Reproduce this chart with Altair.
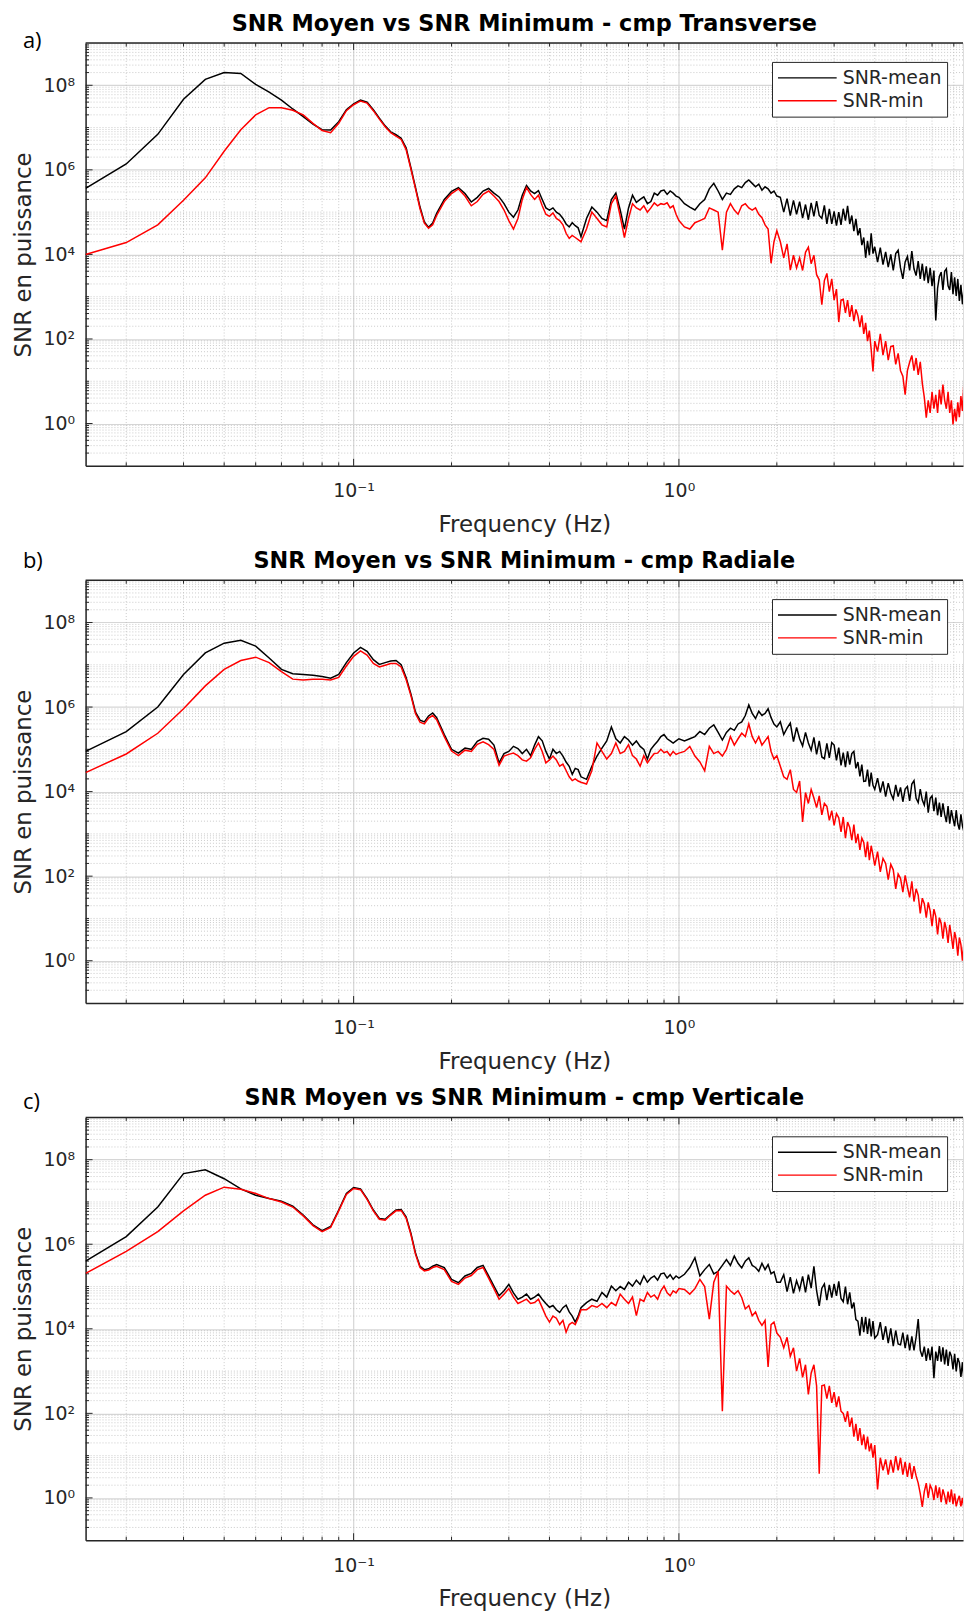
import altair as alt
import pandas as pd

# ---------------- frequency grid (Hz) ----------------
FREQ_LOW = [0.015, 0.02, 0.025, 0.03, 0.035, 0.04, 0.045, 0.05, 0.055, 0.06, 0.065, 0.07,
            0.075, 0.08, 0.085, 0.09, 0.095, 0.1, 0.105, 0.11, 0.115, 0.12, 0.125, 0.13,
            0.135, 0.14, 0.145, 0.15, 0.155, 0.16, 0.165, 0.17, 0.175, 0.18, 0.19, 0.2]
FREQ_MID1 = [0.21, 0.22, 0.23, 0.24, 0.25, 0.26, 0.27, 0.28, 0.29, 0.30, 0.31, 0.32, 0.33, 0.34, 0.35,
             0.36, 0.37, 0.38, 0.39, 0.40, 0.41, 0.42, 0.43, 0.44, 0.45, 0.46, 0.47, 0.48, 0.49, 0.50]
FREQ_MID2 = [0.52, 0.54, 0.56, 0.58, 0.60, 0.62, 0.64, 0.66, 0.68, 0.70, 0.72, 0.74, 0.76, 0.78, 0.80,
             0.82, 0.84, 0.86, 0.88, 0.90, 0.92, 0.94, 0.96, 0.98, 1.00]
FREQ_HIGH1 = [1.04, 1.08, 1.12, 1.16, 1.20, 1.24, 1.28, 1.32, 1.36, 1.40, 1.44, 1.48, 1.52, 1.56, 1.60,
              1.64, 1.68, 1.72, 1.76, 1.80, 1.84, 1.88, 1.92, 1.96, 2.00]
FREQ_HIGH2 = [2.05, 2.10, 2.15, 2.20, 2.25, 2.30, 2.35, 2.40, 2.45, 2.50, 2.55, 2.60, 2.65, 2.70, 2.75,
              2.80, 2.85, 2.90, 2.95, 3.00, 3.05, 3.10, 3.15, 3.20, 3.25, 3.30, 3.35, 3.40, 3.45, 3.50,
              3.55, 3.60, 3.65, 3.70, 3.75, 3.80, 3.85, 3.90, 3.95, 4.00]
FREQ_HIGH3 = [4.08, 4.16, 4.24, 4.32, 4.40, 4.48, 4.56, 4.64, 4.72, 4.80, 4.88, 4.96, 5.04, 5.12, 5.20,
              5.28, 5.36, 5.44, 5.52, 5.60, 5.68, 5.76, 5.84, 5.92, 6.00, 6.08, 6.16, 6.24, 6.32, 6.40,
              6.48, 6.56, 6.64, 6.72, 6.80, 6.88, 6.96, 7.04, 7.12, 7.20, 7.28, 7.36, 7.44, 7.52, 7.60,
              7.68, 7.76]
FREQ = FREQ_LOW + FREQ_MID1 + FREQ_MID2 + FREQ_HIGH1 + FREQ_HIGH2 + FREQ_HIGH3

# ---------------- SNR values, as log10 exponents ----------------
# a) Transverse
A_MEAN = [5.56, 6.14, 6.84, 7.67, 8.14, 8.30, 8.28, 8.02, 7.84, 7.65, 7.44, 7.26, 7.08, 6.95, 6.94, 7.14, 7.42, 7.56,
          7.65, 7.60, 7.42, 7.22, 7.04, 6.90, 6.83, 6.75, 6.52, 6.05, 5.58, 5.12, 4.77, 4.64, 4.74, 4.97, 5.30, 5.49,
          5.58, 5.44, 5.24, 5.35, 5.50, 5.56, 5.45, 5.36, 5.20, 5.00, 4.88, 5.05, 5.40, 5.63, 5.50,
          5.44, 5.51, 5.30, 5.10, 5.05, 5.10, 5.00, 4.95, 4.85, 4.72, 4.65, 4.75, 4.68, 4.63, 4.42,
          4.85, 5.12, 5.00, 4.85, 4.80, 5.30, 5.45, 5.05, 4.60, 5.10, 5.40, 5.23, 5.30, 5.36, 5.20,
          5.25, 5.45, 5.40, 5.50, 5.52, 5.42, 5.50, 5.45, 5.38, 5.35,
          5.20, 5.12, 5.05, 5.20, 5.30, 5.55, 5.68, 5.50, 5.30, 5.45, 5.42, 5.55, 5.62, 5.58, 5.70,
          5.76, 5.68, 5.60, 5.66, 5.52, 5.60, 5.55, 5.45, 5.50, 5.38,
          5.35, 5.00, 5.32, 4.92, 5.28, 4.95, 5.25, 4.86, 5.18, 4.82, 5.22, 4.90, 5.26, 4.92, 4.85,
          5.16, 4.72, 5.08, 4.72, 5.02, 4.68, 5.00, 4.70, 5.08, 4.80, 5.15, 4.72, 4.92, 4.55, 4.84,
          4.45, 4.62, 4.22, 4.40, 3.92, 4.32, 3.98, 4.50, 4.02, 4.18,
          3.82, 4.16, 3.76, 4.06, 3.70, 4.00, 3.62, 4.02, 4.10, 3.68, 3.42, 3.82, 3.95, 3.62, 4.08,
          3.66, 3.50, 3.84, 3.42, 3.78, 3.38, 3.72, 3.32, 3.68, 3.25, 3.62, 2.44, 3.20, 3.48, 3.58,
          3.16, 3.60, 3.66, 3.26, 3.16, 3.58, 3.06, 3.46, 3.02, 3.42, 2.90, 3.28, 2.82, 3.18, 2.70,
          2.62, 2.92]
A_MIN = [4.00, 4.28, 4.70, 5.28, 5.81, 6.44, 6.95, 7.30, 7.47, 7.47, 7.41, 7.30, 7.10, 6.93, 6.88, 7.10, 7.40, 7.54,
         7.63, 7.58, 7.40, 7.20, 7.02, 6.88, 6.80, 6.72, 6.48, 6.02, 5.55, 5.08, 4.74, 4.62, 4.70, 4.92, 5.25, 5.44,
         5.55, 5.38, 5.15, 5.25, 5.42, 5.50, 5.38, 5.25, 5.05, 4.80, 4.60, 4.85, 5.30, 5.58, 5.42,
         5.30, 5.40, 5.15, 4.95, 4.90, 4.98, 4.85, 4.80, 4.70, 4.50, 4.38, 4.45, 4.40, 4.35, 4.30,
         4.60, 5.00, 4.85, 4.70, 4.65, 5.20, 5.38, 4.90, 4.40, 4.85, 5.20, 5.10, 5.05, 5.15, 5.00,
         5.10, 5.22, 5.15, 5.20, 5.18, 5.22, 5.10, 5.15, 4.95, 4.80,
         4.65, 4.60, 4.75, 4.80, 4.85, 5.10, 5.05, 5.00, 4.10, 5.00, 5.20, 5.05, 4.95, 5.15, 5.20,
         5.10, 5.05, 5.10, 4.95, 4.87, 4.70, 4.60, 3.79, 4.30, 4.56,
         4.30, 3.92, 4.25, 3.63, 3.98, 3.68, 3.92, 3.62, 4.05, 4.17, 3.78, 3.98, 3.52, 3.40, 2.81,
         3.38, 3.55, 3.12, 3.42, 2.92, 3.18, 2.40, 2.92, 2.94, 2.62, 2.92, 2.52, 2.80, 2.42, 2.70,
         2.55, 2.28, 2.56, 2.12, 2.38, 1.95, 2.20, 1.75, 1.23, 1.95,
         1.70, 2.12, 1.62, 1.95, 1.50, 1.82, 1.84, 1.40, 1.66, 1.25, 1.12, 0.68, 1.25, 1.45, 1.61,
         1.25, 1.55, 1.15, 1.46, 0.95, 0.62, 0.14, 0.55, 0.25, 0.75, 0.35, 0.68, 0.25, 0.80, 0.45,
         0.92, 0.55, 0.35, 0.75, 0.25, 0.55, -0.02, 0.35, 0.05, 0.50, 0.15, 0.65, 0.30, 1.00, 0.45,
         0.75, 0.35]
# b) Radiale
B_MEAN = [4.95, 5.42, 6.00, 6.77, 7.28, 7.51, 7.58, 7.44, 7.16, 6.89, 6.79, 6.77, 6.75, 6.72, 6.68, 6.77, 7.05, 7.28,
          7.41, 7.32, 7.12, 7.01, 7.05, 7.09, 7.10, 7.00, 6.70, 6.31, 5.88, 5.69, 5.65, 5.79, 5.86, 5.75, 5.35, 5.00,
          4.91, 5.03, 5.00, 5.19, 5.26, 5.24, 5.10, 4.68, 4.90, 4.95, 5.07, 5.02, 4.90, 5.00, 4.85,
          5.10, 5.30, 5.20, 4.95, 4.77, 5.00, 4.90, 4.95, 4.84, 4.70, 4.60, 4.41, 4.55, 4.52, 4.35,
          4.29, 4.60, 4.84, 5.03, 5.20, 5.53, 5.25, 5.15, 5.30, 5.22, 5.10, 5.20, 5.07, 5.00, 4.77,
          5.00, 5.10, 5.19, 5.30, 5.35, 5.25, 5.20, 5.15, 5.20, 5.25,
          5.20, 5.25, 5.30, 5.42, 5.35, 5.50, 5.58, 5.40, 5.22, 5.40, 5.50, 5.45, 5.60, 5.65, 5.80,
          6.05, 5.85, 5.73, 5.90, 5.80, 5.85, 5.96, 5.75, 5.60, 5.53,
          5.65, 5.35, 5.50, 5.62, 5.18, 5.52, 5.25, 5.08, 5.40, 5.15, 4.98, 5.28, 4.88, 5.20, 4.82,
          4.78, 5.14, 4.80, 5.16, 5.10, 4.74, 5.04, 4.62, 4.92, 4.58, 4.95, 4.64, 4.90, 4.95, 4.55,
          4.70, 4.36, 4.64, 4.24, 4.25, 4.52, 4.12, 4.45, 4.15, 4.05,
          4.32, 3.98, 4.24, 3.88, 4.20, 3.96, 3.82, 4.16, 3.88, 4.10, 3.76, 4.06, 4.12, 3.78, 4.18,
          4.26, 3.84, 3.74, 4.06, 3.80, 3.68, 4.00, 3.50, 3.84, 3.90, 3.54, 3.86, 3.44, 3.74, 3.40,
          3.72, 3.46, 3.28, 3.66, 3.24, 3.56, 3.36, 3.18, 3.56, 3.24, 3.10, 3.46, 3.19, 3.04, 3.40,
          3.09, 2.98]
B_MIN = [4.45, 4.89, 5.38, 5.96, 6.50, 6.89, 7.10, 7.18, 7.05, 6.84, 6.66, 6.64, 6.66, 6.66, 6.64, 6.70, 6.97, 7.20,
         7.33, 7.23, 7.03, 6.95, 6.99, 7.03, 7.03, 6.95, 6.65, 6.27, 5.84, 5.64, 5.60, 5.74, 5.80, 5.70, 5.30, 4.96,
         4.85, 4.98, 4.95, 5.12, 5.18, 5.11, 5.00, 4.62, 4.84, 4.88, 4.91, 4.85, 4.75, 4.72, 4.80,
         5.00, 5.15, 4.95, 4.68, 4.75, 4.84, 4.75, 4.60, 4.65, 4.50, 4.35, 4.26, 4.30, 4.25, 4.22,
         4.18, 4.50, 5.15, 4.95, 4.77, 4.90, 5.15, 4.90, 4.95, 5.11, 4.85, 4.77, 4.60, 4.85, 4.68,
         4.80, 4.90, 4.91, 5.00, 4.92, 4.95, 4.85, 4.95, 4.88, 4.91,
         4.95, 5.07, 4.84, 4.70, 4.49, 5.07, 4.90, 4.95, 4.84, 5.00, 5.30, 5.10, 5.25, 5.38, 5.30,
         5.60, 5.30, 5.15, 5.30, 5.10, 5.20, 5.30, 4.95, 4.77, 4.85,
         4.60, 4.35, 4.29, 4.52, 4.05, 3.98, 4.25, 3.28, 3.98, 3.72, 4.05, 3.85, 3.62, 3.90, 3.45,
         3.72, 3.65, 3.32, 3.55, 3.20, 3.48, 3.38, 3.05, 3.40, 2.90, 3.28, 3.15, 2.85, 3.22, 2.78,
         3.00, 2.62, 2.90, 2.80, 2.45, 2.82, 2.38, 2.72, 2.50, 2.25,
         2.58, 2.10, 2.42, 2.30, 1.92, 2.28, 2.15, 1.70, 2.05, 1.95, 1.62, 2.02, 1.75, 1.50, 1.88,
         1.40, 1.70, 1.55, 1.12, 1.48, 1.35, 1.02, 1.38, 1.18, 0.82, 1.22, 1.05, 0.62, 1.02, 0.88,
         0.52, 0.92, 0.74, 0.42, 0.85, 0.58, 0.28, 0.68, 0.50, 0.12, 0.55, 0.38, 0.00, 0.45, 0.25,
         0.58, 0.30]
# c) Verticale
C_MEAN = [5.60, 6.18, 6.88, 7.67, 7.76, 7.55, 7.31, 7.16, 7.08, 7.02, 6.90, 6.69, 6.46, 6.32, 6.42, 6.81, 7.20, 7.34,
          7.31, 7.08, 6.81, 6.61, 6.59, 6.71, 6.81, 6.82, 6.65, 6.26, 5.79, 5.48, 5.40, 5.42, 5.48, 5.52, 5.45, 5.17,
          5.09, 5.25, 5.31, 5.45, 5.50, 5.25, 5.01, 4.78, 4.90, 5.05, 4.85, 4.70, 4.75, 4.82, 4.70,
          4.75, 4.82, 4.70, 4.60, 4.51, 4.55, 4.45, 4.39, 4.50, 4.56, 4.40, 4.30, 4.16, 4.30, 4.50,
          4.62, 4.70, 4.65, 4.86, 4.75, 5.01, 4.90, 5.00, 4.93, 5.10, 5.01, 5.15, 5.05, 5.25, 5.10,
          5.20, 5.25, 5.15, 5.30, 5.32, 5.20, 5.28, 5.17, 5.25, 5.20,
          5.29, 5.45, 5.68, 5.25, 5.40, 5.52, 5.30, 5.36, 5.50, 5.64, 5.50, 5.72, 5.55, 5.44, 5.60,
          5.68, 5.50, 5.45, 5.36, 5.55, 5.40, 5.52, 5.30, 5.35, 5.10,
          5.10, 5.28, 4.88, 5.22, 4.84, 5.14, 4.92, 5.24, 4.86, 5.28, 4.96, 5.48, 4.90, 4.54, 4.96,
          5.06, 4.68, 5.04, 4.74, 5.06, 4.78, 5.12, 4.72, 4.64, 5.00, 4.58, 4.86, 4.48, 4.62, 4.22,
          4.18, 3.84, 4.28, 3.92, 4.28, 3.88, 4.24, 3.82, 4.18, 3.78,
          3.86, 4.16, 3.74, 4.06, 3.66, 4.01, 3.59, 3.96, 3.64, 3.62, 3.91, 3.54, 3.86, 3.49, 3.82,
          3.49, 3.80, 4.23, 3.49, 3.34, 3.58, 3.24, 3.54, 3.26, 3.58, 2.83, 3.46, 3.24, 3.59, 3.22,
          3.56, 3.16, 3.51, 3.12, 3.46, 3.35, 3.04, 3.41, 2.99, 3.31, 3.20, 2.86, 3.21, 2.79, 3.01,
          2.67, 2.49]
C_MIN = [5.31, 5.83, 6.30, 6.79, 7.16, 7.35, 7.30, 7.20, 7.08, 7.00, 6.88, 6.67, 6.44, 6.30, 6.40, 6.79, 7.18, 7.32,
         7.29, 7.06, 6.79, 6.59, 6.57, 6.69, 6.79, 6.80, 6.62, 6.23, 5.76, 5.45, 5.37, 5.39, 5.45, 5.48, 5.40, 5.12,
         5.05, 5.20, 5.26, 5.40, 5.45, 5.20, 4.95, 4.70, 4.82, 4.95, 4.75, 4.60, 4.65, 4.70, 4.60,
         4.62, 4.70, 4.50, 4.30, 4.16, 4.30, 4.25, 4.10, 4.20, 3.92, 4.10, 4.15, 4.10, 4.25, 4.45,
         4.45, 4.55, 4.51, 4.60, 4.50, 4.62, 4.55, 4.82, 4.70, 4.60, 4.75, 4.31, 4.70, 4.65, 4.86,
         4.75, 4.80, 4.70, 4.90, 5.01, 4.85, 4.78, 4.90, 4.85, 4.95,
         4.93, 4.82, 4.95, 5.17, 5.00, 4.23, 5.10, 5.36, 2.05, 5.01, 4.90, 4.82, 4.90, 4.74, 4.47,
         4.55, 4.31, 4.40, 4.20, 4.08, 4.20, 3.10, 4.10, 4.16, 3.90,
         3.80, 3.55, 3.80, 3.35, 3.55, 3.00, 3.30, 2.85, 3.15, 2.45, 2.95, 3.15, 2.65, 0.57, 2.65,
         2.67, 2.35, 2.65, 2.25, 2.50, 2.15, 2.40, 2.05, 2.00, 1.80, 2.05, 1.68, 1.90, 1.45, 1.75,
         1.35, 1.65, 1.25, 1.50, 1.15, 1.45, 1.10, 1.29, 0.95, 1.25,
         0.20, 0.95, 0.65, 0.91, 0.55, 0.90, 0.60, 0.99, 0.65, 0.95, 0.55, 0.85, 0.50, 0.83, 0.45,
         0.75, 0.52, 0.35, 0.10, -0.21, 0.15, 0.35, 0.00, 0.30, 0.20, -0.05, 0.30, 0.00, 0.25, -0.10,
         0.20, 0.05, -0.15, 0.15, -0.10, 0.20, -0.15, 0.10, -0.20, -0.05, 0.05, -0.20, 0.00, -0.25, -0.05,
         -0.20, -0.10]

TITLES = ["SNR Moyen vs SNR Minimum - cmp Transverse",
          "SNR Moyen vs SNR Minimum - cmp Radiale",
          "SNR Moyen vs SNR Minimum - cmp Verticale"]
LETTERS = ["a)", "b)", "c)"]
SERIES = ["SNR-mean", "SNR-min"]

# axis tick positions
X_MAJOR = [0.1, 1.0]
X_MINOR = [0.02, 0.03, 0.04, 0.05, 0.06, 0.07, 0.08, 0.09,
           0.2, 0.3, 0.4, 0.5, 0.6, 0.7, 0.8, 0.9,
           2, 3, 4, 5, 6, 7]
Y_MAJOR = [1, 1e2, 1e4, 1e6, 1e8]
Y_MINOR = [k * 10.0 ** e for e in range(-1, 9) for k in range(2, 10)] + [10.0, 1e3, 1e5, 1e7]

# ---------------- layout ----------------
W, H = 882, 425
DEC = 327.0                      # px per decade on x
XMIN = 0.015
XMAX = XMIN * 10 ** (W / DEC)
AX = "#262626"
GRID_MAJ = "#d6d6d6"
GRID_MIN = "#bdbdbd"
LETTER_Y = [-2, -19, -15]

xscale = alt.Scale(type="log", domain=[XMIN, XMAX], nice=False)
yscale = alt.Scale(type="log", domain=[0.1, 1e9], nice=False)

sup = "['⁰','¹','²','³','⁴','⁵','⁶','⁷','⁸','⁹']"

xaxis = alt.Axis(values=X_MAJOR, labelExpr="datum.value < 0.5 ? '10⁻¹' : '10⁰'",
                 grid=True, gridColor=GRID_MAJ, gridWidth=1.2,
                 domain=True, domainColor=AX, domainWidth=1.5, ticks=False,
                 labelPadding=16, labelFontSize=19, labelColor=AX, labelFont="DejaVu Sans",
                 labelFlush=False, title="Frequency (Hz)", titleFontSize=23,
                 titleFontWeight="normal", titleColor=AX, titleFont="DejaVu Sans", titlePadding=13)
yaxis = alt.Axis(values=Y_MAJOR, labelExpr="'10' + " + sup + "[round(log(datum.value)/LN10)]",
                 grid=True, gridColor=GRID_MAJ, gridWidth=1.2,
                 domain=True, domainColor=AX, domainWidth=1.5, ticks=False,
                 labelPadding=11, labelFontSize=19, labelColor=AX, labelFont="DejaVu Sans",
                 labelFlush=False, title="SNR en puissance", titleFontSize=23,
                 titleFontWeight="normal", titleColor=AX, titleFont="DejaVu Sans", titlePadding=8)


def panel(i, mean, mn):
    n = len(FREQ)
    assert len(mean) == n and len(mn) == n, (i, len(mean), len(mn), n)
    df = pd.DataFrame({
        "freq": FREQ + FREQ,
        "snr": [10 ** v for v in mean] + [10 ** v for v in mn],
        "series": [SERIES[0]] * n + [SERIES[1]] * n,
    })
    xminor = pd.DataFrame({"freq": X_MINOR})
    xmajor = pd.DataFrame({"freq": X_MAJOR})
    yminor = pd.DataFrame({"snr": Y_MINOR})
    ymajor = pd.DataFrame({"snr": Y_MAJOR})

    X = alt.X("freq:Q", scale=xscale, axis=xaxis)
    Y = alt.Y("snr:Q", scale=yscale, axis=yaxis)

    gx = alt.Chart(xminor).mark_rule(color=GRID_MIN, strokeDash=[1, 2], strokeWidth=0.8).encode(x=X)
    gy = alt.Chart(yminor).mark_rule(color=GRID_MIN, strokeDash=[1, 2], strokeWidth=0.8).encode(y=Y)

    lines = alt.Chart(df).mark_line(clip=True, strokeWidth=1.5).encode(
        x=X, y=Y,
        color=alt.Color("series:N", sort=SERIES,
                        scale=alt.Scale(domain=SERIES, range=["#000000", "#ff0000"]),
                        legend=alt.Legend(orient="none", legendX=690, legendY=19, title=None,
                                          symbolType="stroke", symbolSize=3481, symbolStrokeWidth=1.4,
                                          clipHeight=22, labelFontSize=19, labelFont="DejaVu Sans",
                                          labelColor=AX, strokeColor=AX, fillColor="white",
                                          padding=5, rowPadding=1, labelOffset=5)),
    )

    def xticks(data, length, top):
        y0, y1 = (0, length) if top else (H, H - length)
        return alt.Chart(data).mark_rule(color=AX, strokeWidth=1).encode(
            x=X, y=alt.value(y0), y2=alt.value(y1))

    def yticks(data, length):
        return alt.Chart(data).mark_rule(color=AX, strokeWidth=1).encode(
            y=Y, x=alt.value(0), x2=alt.value(length))

    one = pd.DataFrame({"d": [0]})
    topline = alt.Chart(one).mark_rule(color=AX, strokeWidth=1.5).encode(
        x=alt.value(0), x2=alt.value(W), y=alt.value(0))
    title = alt.Chart(pd.DataFrame({"t": [TITLES[i]]})).mark_text(
        font="DejaVu Sans", fontSize=22.5, fontWeight="bold", color="black",
        align="center", baseline="alphabetic").encode(
        text="t:N", x=alt.value(W / 2), y=alt.value(-12))
    letter = alt.Chart(pd.DataFrame({"t": [LETTERS[i]]})).mark_text(
        font="Open Sans", fontSize=22, color="black", align="left", baseline="middle").encode(
        text="t:N", x=alt.value(-63), y=alt.value(LETTER_Y[i]))

    return alt.layer(
        gx, gy,
        xticks(xminor, 3.5, False), xticks(xmajor, 7, False),
        xticks(xminor, 3.5, True), xticks(xmajor, 7, True),
        yticks(yminor, 3.5), yticks(ymajor, 7),
        topline, lines, title, letter,
    ).properties(width=W, height=H)


chart = alt.vconcat(
    panel(0, A_MEAN, A_MIN),
    panel(1, B_MEAN, B_MIN),
    panel(2, C_MEAN, C_MIN),
    spacing=12,
).resolve_scale(color="independent").resolve_legend(color="independent").properties(
    padding={"left": 3, "top": 0, "right": 0, "bottom": 0}
).configure_view(stroke=None).configure(background="white")

chart.save("out.html", embed_options={"renderer": "svg", "actions": False})
